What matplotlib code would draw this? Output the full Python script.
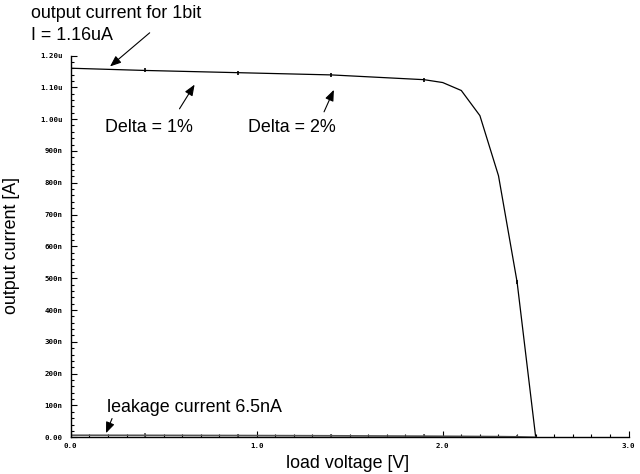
import matplotlib
matplotlib.use('Agg')
import matplotlib.pyplot as plt
from matplotlib.ticker import MultipleLocator, FuncFormatter

# simulation results
vload = [0.0, 0.4, 0.9, 1.4, 1.9, 2.0, 2.1, 2.2, 2.3, 2.4, 2.5]
iout = [1.160e-6, 1.153e-6, 1.146e-6, 1.139e-6, 1.124e-6, 1.115e-6,
        1.090e-6, 1.011e-6, 0.822e-6, 0.488e-6, 0.0]
ileak = [6.5e-9, 6.2e-9, 5.6e-9, 4.8e-9, 3.6e-9, 3.3e-9,
         3.0e-9, 2.6e-9, 2.2e-9, 1.5e-9, 0.0]
mark_v = [0.4, 0.9, 1.4, 1.9, 2.4]

ytick_labels = ['0.00', '100n', '200n', '300n', '400n', '500n', '600n',
                '700n', '800n', '900n', '1.00u', '1.10u', '1.20u']

W, H = 640, 474
fig = plt.figure(figsize=(6.4, 4.74), dpi=100)
ax = fig.add_axes([70.7 / W, 1 - 437.3 / H, (628.7 - 70.7) / W, (437.3 - 55.5) / H])

mi = [vload.index(v) for v in mark_v]
ax.plot(vload, iout, color='black', lw=0.9, marker='|', markersize=3.5,
        markevery=mi, mew=1.2)
ax.plot(vload, ileak, color='#555555', lw=1.2, marker='|', markersize=3,
        markevery=mi, mew=1.2)

ax.set_xlim(0, 3.0)
ax.set_ylim(0, 1.2e-6)
for s in ['top', 'right']:
    ax.spines[s].set_visible(False)
for s in ['left', 'bottom']:
    ax.spines[s].set_linewidth(1.0)

ax.xaxis.set_major_locator(MultipleLocator(1.0))
ax.xaxis.set_minor_locator(MultipleLocator(0.1))
ax.yaxis.set_major_locator(MultipleLocator(1e-7))
ax.yaxis.set_minor_locator(MultipleLocator(2e-8))
ax.xaxis.set_major_formatter(FuncFormatter(lambda v, p: '%.1f' % v))
ax.yaxis.set_major_formatter(FuncFormatter(
    lambda v, p: ytick_labels[int(round(v / 1e-7))] if 0 <= round(v / 1e-7) < len(ytick_labels) else ''))

ax.tick_params(which='both', direction='in', width=0.8)
ax.tick_params(which='major', length=4)
ax.tick_params(which='minor', length=2)
ax.tick_params(axis='y', pad=6)
ax.tick_params(axis='x', pad=4)
for lab in ax.get_xticklabels() + ax.get_yticklabels():
    lab.set_fontfamily('DejaVu Sans Mono')
    lab.set_fontweight('bold')
    lab.set_fontsize(5.3)

fs = 12.9
fam = 'Liberation Sans'


def ftext(px, py, s, **kw):
    fig.text(px / W, 1 - py / H, s, fontsize=fs, family=fam, va='center', **kw)


ftext(31, 13, 'output current for 1bit')
ftext(31, 35, 'I = 1.16uA')
ftext(105, 127, 'Delta = 1%')
ftext(248, 127, 'Delta = 2%')
ftext(107, 408, 'leakage current 6.5nA')
ftext(348, 464, 'load voltage [V]', ha='center')
ftext(12, 245, 'output current [A]', ha='center', rotation=90)

aprops = dict(arrowstyle='-|>,head_length=0.55,head_width=0.22', color='black',
              lw=0.8, mutation_scale=12)
arrows = [((0.20, 1.160e-6), (0.436, 1.277e-6)),
          ((0.674, 1.116e-6), (0.577, 1.025e-6)),
          ((1.421, 1.100e-6), (1.356, 1.015e-6)),
          ((0.184, 0.005e-6), (0.228, 0.067e-6))]
for head, tail in arrows:
    ax.annotate('', xy=head, xytext=tail, arrowprops=aprops, annotation_clip=False)

fig.savefig('out.png', dpi=100)
